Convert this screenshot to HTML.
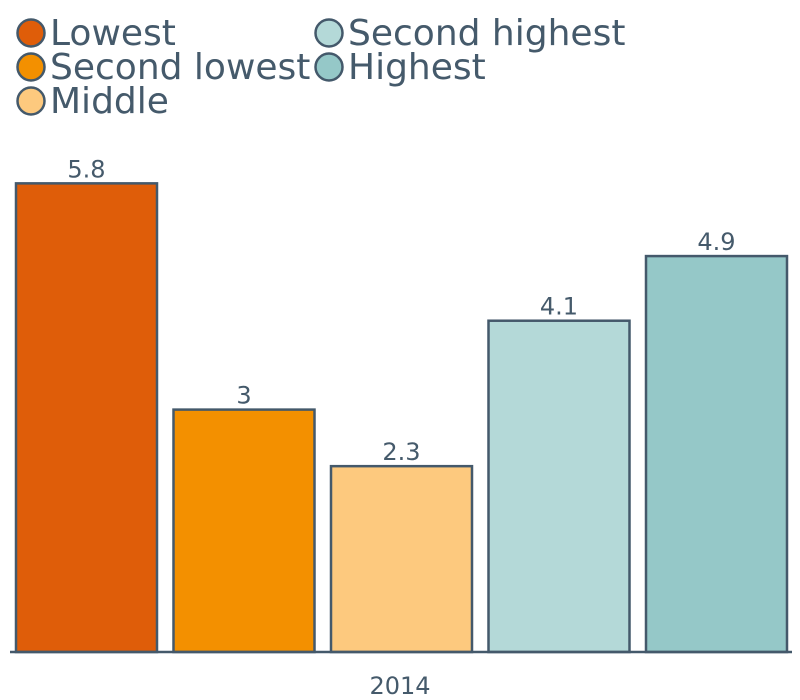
<!DOCTYPE html>
<html><head><meta charset="utf-8"><style>
body{margin:0;background:#fff;}
svg{display:block;font-family:"DejaVu Sans","Liberation Sans",sans-serif;}
</style></head><body>
<svg id="chart" width="800" height="700">
<g id="legend"></g>
<g id="bars"></g>
<line x1="10" y1="652" x2="792" y2="652" stroke="#44596b" stroke-width="2.5"/>
<text x="400" y="694" text-anchor="middle" font-size="24" fill="#455a6b">2014</text>
</svg>
<script>
const categories = ["Lowest","Second lowest","Middle","Second highest","Highest"];
const values = [5.8, 3, 2.3, 4.1, 4.9];
const valueLabels = ["5.8","3","2.3","4.1","4.9"];
const colors = ["#df5d09","#f39000","#fdc97e","#b4d9d8","#95c8c8"];
const NS="http://www.w3.org/2000/svg";
const baseY=652, pxPerUnit=80.8;
function yScale(v){return baseY - v*pxPerUnit;}
function xScale(i){return 16 + i*157.5;}
const barW=141;
const bars=document.getElementById('bars');
values.forEach((v,i)=>{
  const r=document.createElementNS(NS,'rect');
  r.setAttribute('x',xScale(i));r.setAttribute('y',yScale(v));
  r.setAttribute('width',barW);r.setAttribute('height',baseY-yScale(v));
  r.setAttribute('fill',colors[i]);r.setAttribute('stroke','#44596b');r.setAttribute('stroke-width','2.5');
  
  
  bars.appendChild(r);
  const t=document.createElementNS(NS,'text');
  t.setAttribute('x',xScale(i)+barW/2);t.setAttribute('y',yScale(v)-6);
  t.setAttribute('text-anchor','middle');t.setAttribute('font-size','24');t.setAttribute('fill','#455a6b');
  t.textContent=valueLabels[i];
  
  
  bars.appendChild(t);
});
const lg=document.getElementById('legend');
const pos=[[31,33],[31,67],[31,101],[329,33],[329,67]];
categories.forEach((c,i)=>{
  const g=document.createElementNS(NS,'g');
  
  
  const ci=document.createElementNS(NS,'circle');
  ci.setAttribute('cx',pos[i][0]);ci.setAttribute('cy',pos[i][1]);ci.setAttribute('r','13.5');
  ci.setAttribute('fill',colors[i]);ci.setAttribute('stroke','#44596b');ci.setAttribute('stroke-width','2.5');
  g.appendChild(ci);
  const t=document.createElementNS(NS,'text');
  t.setAttribute('x',pos[i][0]+19);t.setAttribute('y',pos[i][1]+12);
  t.setAttribute('font-size','36');t.setAttribute('fill','#455a6b');
  t.textContent=c;g.appendChild(t);
  lg.appendChild(g);
});
</script>
</body></html>
